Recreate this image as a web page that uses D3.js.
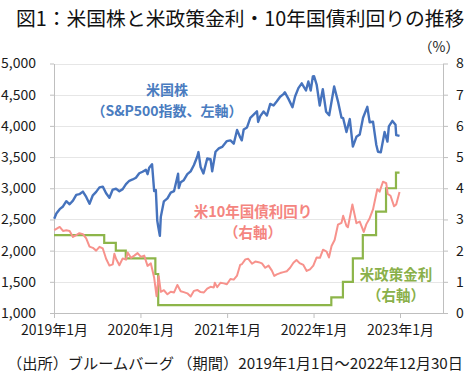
<!DOCTYPE html>
<html><head><meta charset="utf-8">
<script src="https://cdn.jsdelivr.net/npm/d3@7"></script>
<style>
html,body{margin:0;padding:0;background:#fff;}
svg{display:block;font-family:"Noto Sans CJK JP","Noto Sans",sans-serif;}
</style></head>
<body>
<svg id="chart" width="474" height="375"></svg>
<script>
// ---- data ----
const spxDates = ["2019-01-02","2019-01-11","2019-01-25","2019-02-08","2019-02-22","2019-03-08","2019-03-22","2019-04-05","2019-04-18","2019-05-03","2019-05-17","2019-05-31","2019-06-14","2019-06-28","2019-07-12","2019-07-26","2019-08-09","2019-08-23","2019-09-06","2019-09-20","2019-10-04","2019-10-18","2019-11-01","2019-11-15","2019-11-29","2019-12-13","2019-12-27",
"2020-01-10","2020-01-24","2020-01-31","2020-02-07","2020-02-19","2020-02-28","2020-03-06","2020-03-12","2020-03-16","2020-03-23","2020-03-27","2020-04-09","2020-04-24","2020-05-08","2020-05-22","2020-06-08","2020-06-11","2020-06-19","2020-07-02","2020-07-17","2020-07-31","2020-08-14","2020-08-28","2020-09-02","2020-09-11","2020-09-23","2020-10-09","2020-10-23","2020-10-30","2020-11-13","2020-11-27","2020-12-11","2020-12-31",
"2021-01-15","2021-01-29","2021-02-12","2021-02-26","2021-03-04","2021-03-12","2021-03-26","2021-04-09","2021-04-23","2021-05-07","2021-05-12","2021-05-21","2021-06-04","2021-06-18","2021-07-02","2021-07-16","2021-07-30","2021-08-13","2021-08-27","2021-09-02","2021-09-17","2021-10-04","2021-10-15","2021-10-29","2021-11-12","2021-11-30","2021-12-10","2021-12-20","2021-12-29",
"2022-01-03","2022-01-14","2022-01-27","2022-02-09","2022-02-23","2022-03-08","2022-03-29","2022-04-14","2022-04-29","2022-05-06","2022-05-20","2022-06-03","2022-06-16","2022-07-01","2022-07-15","2022-07-29","2022-08-16","2022-08-26","2022-09-09","2022-09-23","2022-09-30","2022-10-12","2022-10-28","2022-11-09","2022-11-15","2022-11-30","2022-12-13","2022-12-16","2022-12-30"];
const spxValues = [2510,2596,2665,2708,2793,2743,2801,2893,2905,2946,2860,2752,2887,2942,3014,3026,2919,2847,2979,2992,2952,2986,3067,3120,3141,3169,3240,
3265,3295,3226,3328,3386,2954,2972,2481,2386,2237,2541,2790,2837,2930,2955,3232,3002,3098,3130,3225,3271,3373,3508,3580,3341,3237,3477,3465,3270,3585,3638,3663,3756,
3768,3714,3934,3811,3768,3943,3975,4129,4180,4233,4063,4156,4230,4166,4352,4327,4395,4468,4509,4537,4433,4300,4471,4605,4682,4567,4712,4568,4793,
4797,4663,4327,4587,4226,4170,4632,4393,4132,4123,3901,4109,3667,3825,3863,4130,4305,4058,4067,3693,3586,3577,3901,3749,3992,4080,4019,3852,3839];

const ustDates = ["2019-01-02","2019-01-11","2019-01-25","2019-02-08","2019-02-22","2019-03-08","2019-03-22","2019-04-05","2019-04-18","2019-05-03","2019-05-17","2019-05-31","2019-06-14","2019-06-28","2019-07-12","2019-07-26","2019-08-09","2019-08-23","2019-09-06","2019-09-13","2019-09-20","2019-10-04","2019-10-18","2019-11-01","2019-11-08","2019-11-22","2019-12-06","2019-12-20",
"2020-01-03","2020-01-17","2020-01-31","2020-02-14","2020-02-28","2020-03-09","2020-03-18","2020-03-27","2020-04-09","2020-04-24","2020-05-08","2020-05-22","2020-06-05","2020-06-19","2020-07-02","2020-07-17","2020-07-31","2020-08-14","2020-08-28","2020-09-11","2020-09-25","2020-10-09","2020-10-23","2020-11-06","2020-11-10","2020-11-20","2020-12-04","2020-12-18","2020-12-31",
"2021-01-15","2021-01-29","2021-02-12","2021-02-25","2021-03-05","2021-03-19","2021-03-31","2021-04-16","2021-04-30","2021-05-14","2021-05-28","2021-06-11","2021-06-25","2021-07-09","2021-07-19","2021-07-30","2021-08-13","2021-08-27","2021-09-10","2021-09-24","2021-10-08","2021-10-21","2021-11-03","2021-11-19","2021-12-03","2021-12-17","2021-12-31",
"2022-01-14","2022-01-28","2022-02-10","2022-02-25","2022-03-07","2022-03-18","2022-03-31","2022-04-14","2022-04-29","2022-05-06","2022-05-20","2022-05-26","2022-06-14","2022-06-24","2022-07-01","2022-07-15","2022-08-01","2022-08-12","2022-08-26","2022-09-09","2022-09-27","2022-10-07","2022-10-21","2022-11-04","2022-11-10","2022-11-22","2022-12-07","2022-12-16","2022-12-30"];
const ustValues = [2.66,2.70,2.76,2.63,2.65,2.63,2.44,2.50,2.56,2.53,2.39,2.13,2.09,2.00,2.12,2.07,1.74,1.52,1.56,1.90,1.74,1.53,1.75,1.71,1.94,1.77,1.84,1.92,
1.80,1.84,1.51,1.59,1.13,0.54,1.18,0.68,0.73,0.60,0.68,0.66,0.90,0.70,0.67,0.63,0.53,0.71,0.74,0.67,0.66,0.78,0.84,0.82,0.97,0.83,0.97,0.95,0.92,
1.09,1.07,1.20,1.54,1.57,1.72,1.74,1.58,1.65,1.63,1.59,1.45,1.52,1.36,1.19,1.24,1.28,1.31,1.34,1.45,1.61,1.70,1.60,1.54,1.35,1.40,1.52,
1.78,1.77,2.03,1.97,1.78,2.15,2.34,2.83,2.89,3.12,2.79,2.75,3.48,3.13,2.88,2.93,2.60,2.85,3.04,3.32,3.97,3.89,4.21,4.16,3.82,3.76,3.42,3.48,3.88];

const fedDates = ["2019-01-01","2019-08-01","2019-09-19","2019-10-31","2020-03-04","2020-03-16","2022-03-17","2022-05-05","2022-06-16","2022-07-28","2022-09-22","2022-11-03","2022-12-15","2022-12-30"];
const fedValues = [2.5,2.25,2.0,1.75,1.25,0.25,0.5,1.0,1.75,2.5,3.25,4.0,4.5,4.5];

const xTickDates = ["2019-01-01","2020-01-01","2021-01-01","2022-01-01","2023-01-01"];
const xTickLabels = ["2019年1月","2020年1月","2021年1月","2022年1月","2023年1月"];
const leftTicks = [1000,1500,2000,2500,3000,3500,4000,4500,5000];
const rightTicks = [0,1,2,3,4,5,6,7,8];

// ---- layout ----
const svg = d3.select("#chart");
const parse = d3.timeParse("%Y-%m-%d");
const L = 54, R = 443, T = 63.5, B = 313;

const x = d3.scaleTime().domain([parse("2019-01-01"), parse("2023-01-01")]).range([L, 400]);
const yL = d3.scaleLinear().domain([1000, 5000]).range([B, T]);
const yR = d3.scaleLinear().domain([0, 8]).range([B, T]);

const axisColor = "#bfbfbf";
const textColor = "#1a1a1a";

// title
svg.append("text").attr("x", 16).attr("y", 26)
  .attr("font-size", 19.8).attr("fill", "#111")
  .text("図1：米国株と米政策金利・10年国債利回りの推移");

svg.append("text").attr("x", 439).attr("y", 52).attr("text-anchor", "middle")
  .attr("font-size", 14).attr("fill", textColor).text("（%）");

// gridlines
svg.append("g").selectAll("line").data(leftTicks.slice(1)).join("line")
  .attr("x1", L).attr("x2", R)
  .attr("y1", d => Math.round(yL(d)) + 0.5).attr("y2", d => Math.round(yL(d)) + 0.5)
  .attr("stroke", "#e6e6e6").attr("stroke-width", 1);

// left axis
const gL = svg.append("g").attr("transform", `translate(${L},0)`)
  .call(d3.axisLeft(yL).tickValues(leftTicks).tickFormat(d3.format(",")).tickSize(4).tickPadding(14).tickSizeOuter(0));
gL.select(".domain").attr("stroke", axisColor);
gL.selectAll(".tick line").attr("stroke", axisColor);
gL.selectAll("text").attr("font-size", 14).attr("fill", textColor).attr("font-family", "'Noto Sans CJK JP',sans-serif");

// right axis
const gR = svg.append("g").attr("transform", `translate(${R},0)`)
  .call(d3.axisRight(yR).tickValues(rightTicks).tickSize(5).tickPadding(8).tickSizeOuter(0));
gR.select(".domain").attr("stroke", axisColor);
gR.selectAll(".tick line").attr("stroke", axisColor);
gR.selectAll("text").attr("font-size", 14).attr("fill", textColor).attr("font-family", "'Noto Sans CJK JP',sans-serif");

// bottom axis
const gB = svg.append("g").attr("transform", `translate(0,${B})`)
  .call(d3.axisBottom(x).tickValues(xTickDates.map(parse))
    .tickFormat((d, i) => xTickLabels[i]).tickSize(5).tickPadding(7).tickSizeOuter(0));
gB.select(".domain").attr("d", `M${L},0.5H${R}`).attr("stroke", axisColor);
gB.selectAll(".tick line").attr("stroke", axisColor);
gB.selectAll("text").attr("font-size", 14).attr("fill", textColor).attr("font-family", "'Noto Sans CJK JP',sans-serif");

// lines
const spx = spxDates.map((d, i) => ({ d: parse(d), v: spxValues[i] }));
const ust = ustDates.map((d, i) => ({ d: parse(d), v: ustValues[i] }));
const fed = fedDates.map((d, i) => ({ d: parse(d), v: fedValues[i] }));

svg.append("path").datum(fed)
  .attr("d", d3.line().x(p => x(p.d)).y(p => yR(p.v)).curve(d3.curveStepAfter))
  .attr("fill", "none").attr("stroke", "#8db54a").attr("stroke-width", 2.2);

svg.append("path").datum(ust)
  .attr("d", d3.line().x(p => x(p.d)).y(p => yR(p.v)))
  .attr("fill", "none").attr("stroke", "#f7928c").attr("stroke-width", 2).attr("stroke-linejoin", "round");

svg.append("path").datum(spx)
  .attr("d", d3.line().x(p => x(p.d)).y(p => yL(p.v)))
  .attr("fill", "none").attr("stroke", "#4673bd").attr("stroke-width", 2.4).attr("stroke-linejoin", "round");

// labels
function label(lines, cx, ys, color, size) {
  lines.forEach((t, i) => {
    svg.append("text").attr("x", cx).attr("y", ys[i]).attr("text-anchor", "middle")
      .attr("font-size", size).attr("font-weight", "bold").attr("fill", color).text(t);
  });
}
label(["米国株", "（S&P500指数、左軸）"], 167, [95, 115.5], "#4a7cc0", 14);
label(["米10年国債利回り", "（右軸）"], 253, [217, 237.5], "#f4857f", 14.5);
label(["米政策金利", "（右軸）"], 396, [280, 300.5], "#8ab04a", 14.5);

// source
svg.append("text").attr("x", 7).attr("y", 369)
  .attr("font-size", 15).attr("fill", textColor)
  .attr("textLength", 456).attr("lengthAdjust", "spacingAndGlyphs")
  .text("（出所）ブルームバーグ （期間）2019年1月1日～2022年12月30日");
</script>
</body></html>
